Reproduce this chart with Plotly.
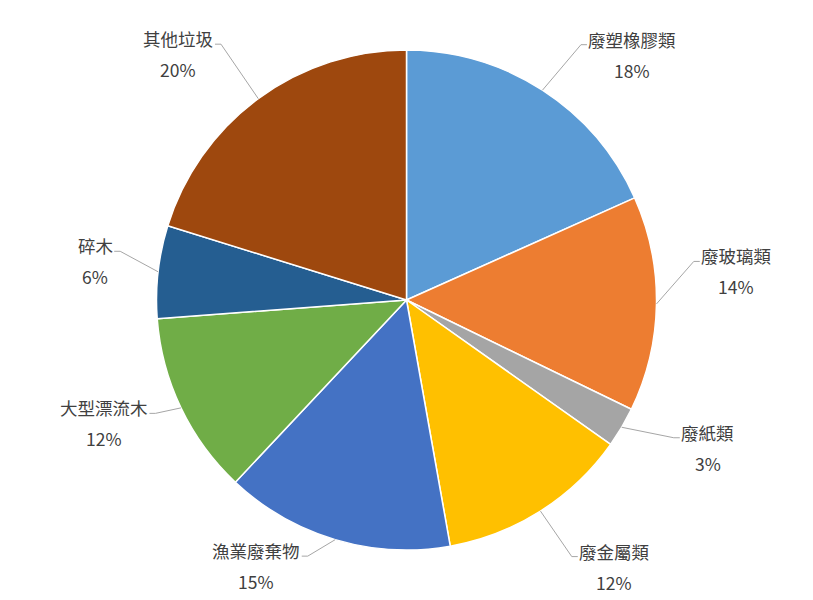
import math
import plotly.graph_objects as go

categories = ["廢塑橡膠類", "廢玻璃類", "廢紙類", "廢金屬類",
              "漁業廢棄物", "大型漂流木", "碎木", "其他垃圾"]
shares = [18.3, 13.9, 2.6, 12.4, 14.8, 11.8, 6.0, 20.2]
colors = ["#5B9BD5", "#ED7D31", "#A5A5A5", "#FFC000",
          "#4472C4", "#70AD47", "#255E91", "#9E480E"]

# label placement (pixels from the slice edge, +y = down)
label_offsets = [(90, -51), (80, -48), (86, 5), (74, 40),
                 (-79, 11), (-77, 0), (-63, -26), (-80, -60)]

# page body has an 8px margin, so keep the figure inside the window
W, H = 797, 584
MT, MB = 42, 42
R = (H - MT - MB) / 2
FONT = "Noto Sans CJK TC"
TXT = "#404040"
FS = 17.5
CHAR_W = 17.6

fig = go.Figure(go.Pie(
    labels=categories,
    values=shares,
    sort=False,
    direction="clockwise",
    rotation=0,
    textinfo="none",
    hoverinfo="label+percent",
    marker=dict(colors=colors, line=dict(color="white", width=1.5)),
    domain=dict(x=[0, 1], y=[0, 1]),
))

total = sum(shares)
cum = 0
annotations = []
shapes = []
for name, v, (dx, dy) in zip(categories, shares, label_offsets):
    mid = (cum + v / 2) / total * 2 * math.pi
    cum += v
    ex = 0.5 + R * math.sin(mid) / W
    ey = 0.5 + 0.5 * math.cos(mid)
    pct = f"{round(v / total * 100)}%"
    annotations.append(dict(x=ex, y=ey, xref="paper", yref="paper",
                            text=name, showarrow=False, xshift=dx, yshift=-dy,
                            xanchor="center", yanchor="middle",
                            font=dict(family=FONT, size=FS, color=TXT)))
    annotations.append(dict(x=ex, y=ey, xref="paper", yref="paper",
                            text=pct, showarrow=False, xshift=dx, yshift=-(dy + 31),
                            xanchor="center", yanchor="middle",
                            font=dict(family=FONT, size=FS, color=TXT)))
    hw = len(name) * CHAR_W / 2
    if dx > 0:
        end_x = dx - hw - 1.5
        elb_x = end_x - 6
    else:
        end_x = dx + hw + 1.5
        elb_x = end_x + 6
    ly = -(dy + 5.5)
    shapes.append(dict(type="path", xref="paper", yref="paper",
                       xsizemode="pixel", ysizemode="pixel",
                       xanchor=ex, yanchor=ey,
                       path=f"M0,0 L{elb_x:.1f},{ly:.1f} L{end_x:.1f},{ly:.1f}",
                       line=dict(color="#A6A6A6", width=1)))

fig.update_layout(
    width=W, height=H,
    margin=dict(l=0, r=0, t=MT, b=MB),
    paper_bgcolor="white",
    plot_bgcolor="white",
    showlegend=False,
    annotations=annotations,
    shapes=shapes,
)

fig.write_html("out.html")
